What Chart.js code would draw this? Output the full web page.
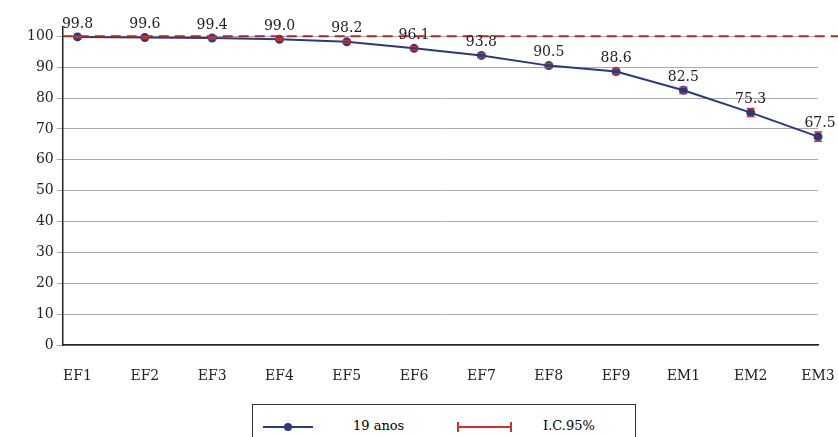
<!DOCTYPE html><html><head><script src="https://cdn.jsdelivr.net/npm/chart.js"></script>
<style>body{margin:0;background:#fff;width:838px;height:437px;overflow:hidden;position:relative;font-family:"DejaVu Serif",serif}
#lg{position:absolute;left:252px;top:404px;width:384px;height:36px;border:1px solid #333;box-sizing:border-box;font-size:13px}
</style></head><body>
<div style="position:absolute;left:0;top:0;width:838px;height:400px"><canvas id="c"></canvas></div>
<div id="lg">
<svg width="384" height="36" style="position:absolute;left:0;top:0"><line x1="10" y1="22" x2="60" y2="22" stroke="#2b3a80" stroke-width="2"/><circle cx="35" cy="22" r="4" fill="#2b3a80"/>
<line x1="205" y1="22" x2="258" y2="22" stroke="#d03030" stroke-width="2"/><line x1="205" y1="17" x2="205" y2="27" stroke="#d03030" stroke-width="2"/><line x1="258" y1="17" x2="258" y2="27" stroke="#d03030" stroke-width="2"/></svg>
<span style="position:absolute;left:100px;top:13px">19 anos</span><span style="position:absolute;left:290px;top:13px">I.C.95%</span></div>
<script>
const categories=["EF1","EF2","EF3","EF4","EF5","EF6","EF7","EF8","EF9","EM1","EM2","EM3"];
const values=[99.8,99.6,99.4,99.0,98.2,96.1,93.8,90.5,88.6,82.5,75.3,67.5];
const ciLow=[99.6,99.3,99.1,98.7,97.8,95.5,93.1,89.8,87.8,81.5,74.0,66.0];
const ciHigh=[100,99.9,99.7,99.3,98.6,96.7,94.5,91.2,89.4,83.5,76.6,69.0];
const yTicks=[0,10,20,30,40,50,60,70,80,90,100];
const pts=values.map((v,i)=>({x:i,y:v}));
const font={family:"DejaVu Serif",size:14};
const extra={id:'extra',afterDatasetsDraw(ch){const {ctx,scales:{x,y},chartArea:a}=ch;ctx.save();
ctx.strokeStyle='#a52a2a';ctx.lineWidth=2;ctx.setLineDash([10,6]);ctx.beginPath();ctx.moveTo(a.left,y.getPixelForValue(100));ctx.lineTo(838,y.getPixelForValue(100));ctx.stroke();ctx.setLineDash([]);
ctx.strokeStyle='#d03030';ctx.lineWidth=1.5;
values.forEach((v,i)=>{const px=x.getPixelForValue(i),l=y.getPixelForValue(ciLow[i]),h=y.getPixelForValue(ciHigh[i]);ctx.beginPath();ctx.moveTo(px-4,l);ctx.lineTo(px+4,l);ctx.moveTo(px-4,h);ctx.lineTo(px+4,h);ctx.stroke();});
ctx.fillStyle='#222';ctx.font='14px "DejaVu Serif"';ctx.textAlign='center';ctx.textBaseline='bottom';
values.forEach((v,i)=>{ctx.fillText(v.toFixed(1),x.getPixelForValue(i)+(i==11?2:0),y.getPixelForValue(v)-6);});ctx.restore();},
beforeDatasetsDraw(ch){const {ctx,scales:{x,y}}=ch;ctx.save();ctx.strokeStyle='#d03030';ctx.lineWidth=1.5;
values.forEach((v,i)=>{const px=x.getPixelForValue(i);ctx.beginPath();ctx.moveTo(px,y.getPixelForValue(ciLow[i]));ctx.lineTo(px,y.getPixelForValue(ciHigh[i]));ctx.stroke();});ctx.restore();}};
new Chart(document.getElementById('c'),{type:'line',data:{datasets:[{data:pts,borderColor:'#2b3a80',backgroundColor:'#2b3a80',borderWidth:2,pointRadius:3.5,tension:0}]},
options:{responsive:true,maintainAspectRatio:false,animation:false,clip:false,layout:{padding:{top:27,right:20,left:24}},plugins:{legend:{display:false},tooltip:{enabled:false}},
scales:{x:{type:'linear',min:-0.22,max:11,grid:{display:false},border:{color:'#222',width:1.5},afterFit(s){s.paddingRight=0;s.paddingLeft=0;},afterBuildTicks(s){s.ticks=categories.map((c,i)=>({value:i}));},ticks:{color:'#222',font,padding:15,callback:(v)=>categories[v]}},
y:{min:0,max:103,grid:{color:'#aaa',drawTicks:true,tickLength:6},border:{color:'#222',width:1.5},afterBuildTicks(s){s.ticks=yTicks.map(v=>({value:v}));},ticks:{color:'#222',font}}}},plugins:[extra]});
</script></body></html>
